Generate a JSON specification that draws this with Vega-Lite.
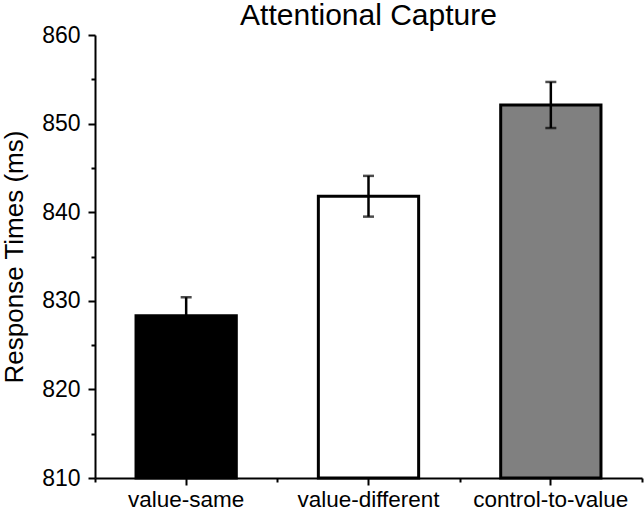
{
  "$schema": "https://vega.github.io/schema/vega-lite/v6.json",
  "autosize": "none",
  "padding": {"left": 95, "top": 35, "right": 2, "bottom": 32},
  "width": 547,
  "height": 443,
  "background": "white",
  "config": {
    "font": "Liberation Sans",
    "view": {"stroke": null}
  },
  "title": {
    "text": "Attentional Capture",
    "font": "Liberation Sans",
    "fontSize": 30,
    "fontWeight": "normal",
    "color": "black",
    "anchor": "middle",
    "offset": -7
  },
  "data": {
    "values": [
      {"condition": "value-same", "rt": 828.3, "lo": 826.2, "hi": 830.4},
      {"condition": "value-different", "rt": 841.8, "lo": 839.5, "hi": 844.1},
      {"condition": "control-to-value", "rt": 852.1, "lo": 849.5, "hi": 854.7}
    ]
  },
  "resolve": {"axis": {"x": "independent", "y": "independent"}},
  "layer": [
    {
      "mark": {"type": "bar", "width": {"band": 0.55}, "stroke": "black", "strokeWidth": 3},
      "encoding": {
        "x": {
          "field": "condition", "type": "nominal", "sort": null,
          "scale": {"paddingInner": 0, "paddingOuter": 0},
          "axis": {
            "title": null, "labelAngle": 0, "labelFontSize": 22.5, "labelColor": "black",
            "labelPadding": 3, "domainColor": "black", "domainWidth": 2,
            "tickColor": "black", "tickWidth": 2, "tickSize": 7
          }
        },
        "y": {
          "field": "rt", "type": "quantitative",
          "scale": {"domain": [810, 860], "zero": false, "nice": false},
          "axis": {
            "title": "Response Times (ms)", "titleFontSize": 26, "titleFontWeight": "normal",
            "titleColor": "black", "titlePadding": 14,
            "values": [810, 815, 820, 825, 830, 835, 840, 845, 850, 855, 860],
            "labelExpr": "datum.value % 10 === 0 ? datum.label : ''",
            "labelFontSize": 23, "labelColor": "black", "labelPadding": 8,
            "domainColor": "black", "domainWidth": 2, "grid": false,
            "tickColor": "black", "tickWidth": 2,
            "tickSize": {"condition": {"test": "datum.value % 10 === 0", "value": 7}, "value": 4}
          }
        },
        "y2": {"datum": 810},
        "fill": {
          "field": "condition", "type": "nominal",
          "scale": {"domain": ["value-same", "value-different", "control-to-value"], "range": ["#000000", "#ffffff", "#808080"]},
          "legend": null
        }
      }
    },
    {
      "mark": {"type": "rule", "color": "black", "strokeWidth": 2.5},
      "encoding": {
        "x": {"field": "condition", "type": "nominal", "sort": null, "axis": null},
        "y": {"field": "lo", "type": "quantitative", "axis": null},
        "y2": {"field": "hi"}
      }
    },
    {
      "mark": {"type": "tick", "color": "black", "orient": "horizontal", "size": 11, "thickness": 2.5},
      "encoding": {
        "x": {"field": "condition", "type": "nominal", "sort": null, "axis": null},
        "y": {"field": "lo", "type": "quantitative", "axis": null}
      }
    },
    {
      "mark": {"type": "tick", "color": "black", "orient": "horizontal", "size": 11, "thickness": 2.5},
      "encoding": {
        "x": {"field": "condition", "type": "nominal", "sort": null, "axis": null},
        "y": {"field": "hi", "type": "quantitative", "axis": null}
      }
    },
    {
      "mark": {"type": "rule", "opacity": 0},
      "encoding": {
        "x": {
          "field": "condition", "type": "nominal", "sort": null,
          "axis": {
            "title": null, "labels": false, "domain": false, "orient": "bottom",
            "tickBand": "extent", "tickColor": "black", "tickWidth": 2, "tickSize": 4
          }
        }
      }
    }
  ]
}
